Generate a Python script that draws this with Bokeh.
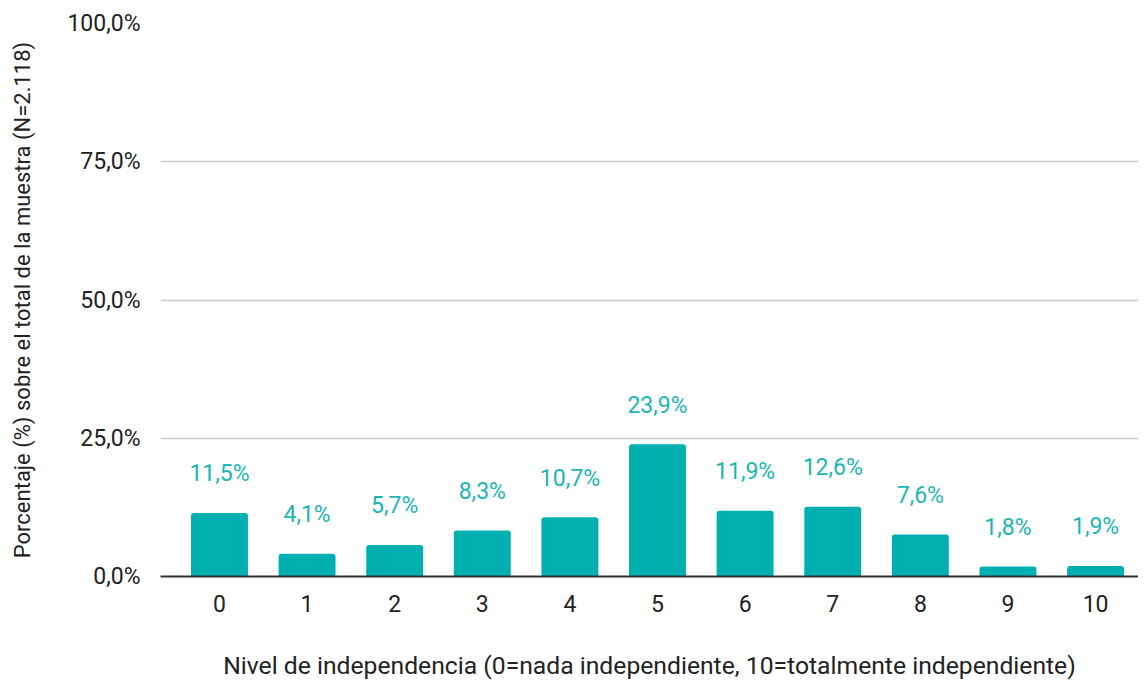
from bokeh.plotting import figure
from bokeh.models import ColumnDataSource, Range1d, FixedTicker, CustomJSTickFormatter
from bokeh.embed import file_html
from bokeh.resources import INLINE
from bokeh.core.properties import value

niveles = [0, 1, 2, 3, 4, 5, 6, 7, 8, 9, 10]
porcentajes = [11.5, 4.1, 5.7, 8.3, 10.7, 23.9, 11.9, 12.6, 7.6, 1.8, 1.9]
etiquetas = ["11,5%", "4,1%", "5,7%", "8,3%", "10,7%", "23,9%", "11,9%", "12,6%", "7,6%", "1,8%", "1,9%"]
y_ticks = [0, 25, 50, 75, 100]
titulo_x = "Nivel de independencia (0=nada independiente, 10=totalmente independiente)"
titulo_y = "Porcentaje (%) sobre el total de la muestra (N=2.118)"

FONT = "Roboto"
BAR = "#00AFAF"
LBL = "#1BB6B3"
TXT = "#222222"

src = ColumnDataSource(dict(x=niveles, y=porcentajes, t=etiquetas))

p = figure(width=1138, height=683, output_backend="svg", toolbar_location=None,
           x_range=Range1d(-0.673, 10.49), y_range=Range1d(0, 100),
           min_border_left=160, min_border_right=0, min_border_top=23, min_border_bottom=107)
p.outline_line_color = None
p.background_fill_color = "white"
p.border_fill_color = "white"

p.vbar(x="x", top="y", width=0.65, source=src, fill_color=BAR, line_color=None,
       border_radius=[3, 3, 0, 0])
p.text(x="x", y="y", text="t", source=src, text_align="center", text_baseline="middle",
       y_offset=-39, text_font=value(FONT), text_font_size="23px", text_color=LBL)

p.xgrid.grid_line_color = None
p.ygrid.grid_line_color = "#cccccc"
p.ygrid.grid_line_width = 1.5
p.ygrid.ticker = FixedTicker(ticks=y_ticks)

ya = p.yaxis[0]
ya.ticker = FixedTicker(ticks=y_ticks)
ya.formatter = CustomJSTickFormatter(code="return tick.toFixed(1).replace('.', ',') + '%';")
ya.axis_line_color = None
ya.major_tick_line_color = None
ya.minor_tick_line_color = None
ya.major_label_text_font = FONT
ya.major_label_text_font_size = "23px"
ya.major_label_text_color = TXT
ya.major_label_standoff = 14
ya.axis_label = titulo_y
ya.axis_label_text_font = FONT
ya.axis_label_text_font_size = "22px"
ya.axis_label_text_font_style = "normal"
ya.axis_label_text_color = TXT
ya.axis_label_standoff = 29

xa = p.xaxis[0]
xa.ticker = FixedTicker(ticks=niveles)
xa.axis_line_color = "#333333"
xa.axis_line_width = 2
xa.major_tick_line_color = None
xa.minor_tick_line_color = None
xa.major_label_text_font = FONT
xa.major_label_text_font_size = "23px"
xa.major_label_text_color = TXT
xa.major_label_standoff = 12
xa.axis_label = titulo_x
xa.axis_label_text_font = FONT
xa.axis_label_text_font_size = "24.7px"
xa.axis_label_text_font_style = "normal"
xa.axis_label_text_color = TXT
xa.axis_label_standoff = 36

open("out.html", "w").write(file_html(p, INLINE))
